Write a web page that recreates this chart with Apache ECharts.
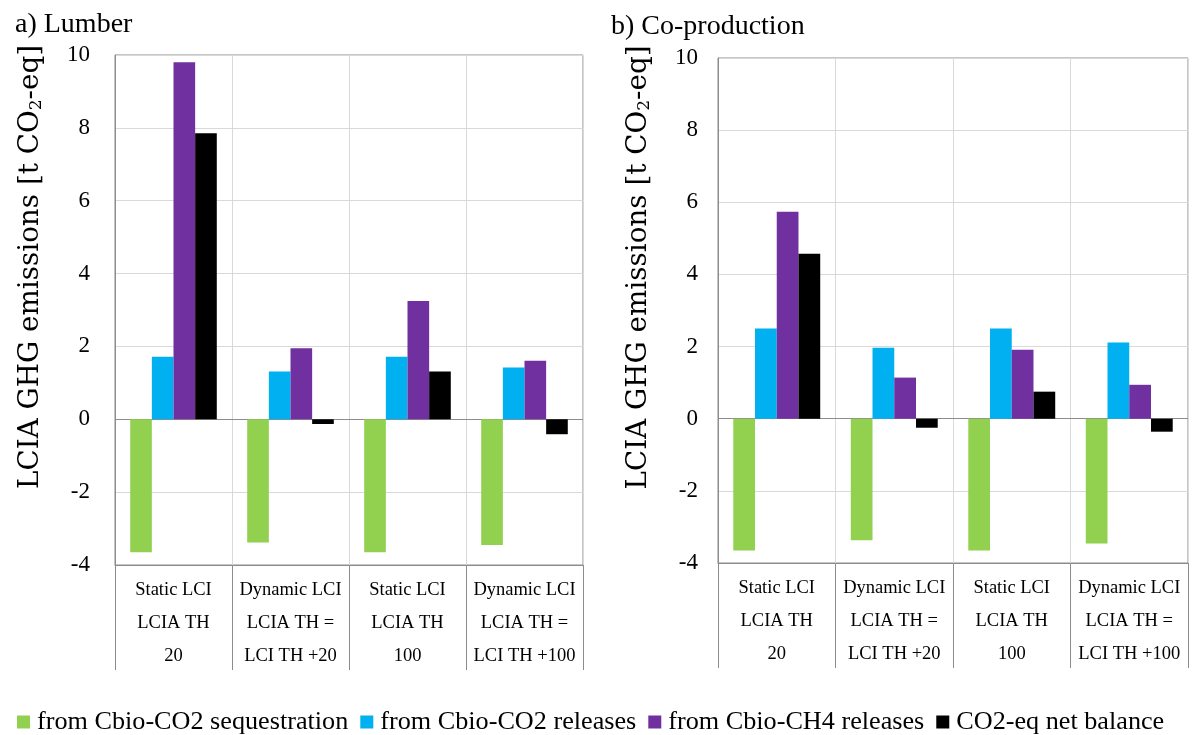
<!DOCTYPE html>
<html>
<head>
<meta charset="utf-8">
<script src="https://cdn.jsdelivr.net/npm/echarts@6/dist/echarts.min.js"></script>
<style>
html, body { margin: 0; padding: 0; background: #fff; }
#chart { width: 1192px; height: 735px; }
</style>
</head>
<body>
<div id="chart"></div>
<script>
// 数据
let categories = ['Static LCI\nLCIA TH\n20', 'Dynamic LCI\nLCIA TH =\nLCI TH +20', 'Static LCI\nLCIA TH\n100', 'Dynamic LCI\nLCIA TH =\nLCI TH +100']
let seriesNames = ['from Cbio-CO2 sequestration', 'from Cbio-CO2 releases', 'from Cbio-CH4 releases', 'CO2-eq net balance']
// a) Lumber
let lumberSeq = [-3.65, -3.38, -3.65, -3.45]
let lumberRel = [1.72, 1.31, 1.72, 1.42]
let lumberCh4 = [9.8, 1.95, 3.25, 1.61]
let lumberNet = [7.85, -0.13, 1.31, -0.41]
// b) Co-production
let coprodSeq = [-3.65, -3.37, -3.65, -3.46]
let coprodRel = [2.5, 1.97, 2.5, 2.11]
let coprodCh4 = [5.74, 1.14, 1.91, 0.94]
let coprodNet = [4.57, -0.25, 0.75, -0.36]
// y轴刻度
let yMin = -4, yMax = 10, yStep = 2

let colors = ['#92D050', '#00B0F0', '#7030A0', '#000000']
let serif = '"Liberation Serif", serif'
let gray = '#8c8c8c'

function xAxisFor(gridIndex) {
    return {
        type: 'category',
        gridIndex: gridIndex,
        data: categories,
        boundaryGap: true,
        axisLine: { onZero: false, lineStyle: { color: gray } },
        axisTick: { show: true, interval: 0, length: 105, lineStyle: { color: gray } },
        axisLabel: {
            interval: 0, margin: 9, color: '#000',
            fontFamily: serif, fontSize: 18.5, lineHeight: 33
        },
        splitLine: { show: true, interval: 0, lineStyle: { color: '#d9d9d9' } }
    }
}

function yAxisFor(gridIndex, labelMargin, nameGap) {
    return {
        type: 'value',
        gridIndex: gridIndex,
        min: yMin, max: yMax, interval: yStep,
        name: 'LCIA GHG emissions [t CO{sub|2}-eq]',
        nameLocation: 'middle',
        nameGap: nameGap,
        nameTextStyle: {
            fontFamily: '"DejaVu Serif", serif', fontSize: 27.8, color: '#000',
            padding: [0, 0, 0, 86],
            rich: { sub: { fontFamily: '"DejaVu Serif", serif', fontSize: 17, verticalAlign: 'bottom', color: '#000' } }
        },
        axisLine: { show: true, lineStyle: { color: gray } },
        axisTick: { show: false },
        axisLabel: { margin: labelMargin, color: '#000', fontFamily: serif, fontSize: 23 },
        splitLine: { lineStyle: { color: '#d9d9d9' } }
    }
}

function barsFor(gridIndex, values) {
    return values.map((d, i) => {
        let s = {
            name: seriesNames[i],
            type: 'bar',
            xAxisIndex: gridIndex,
            yAxisIndex: gridIndex,
            data: d,
            barGap: '0%',
            barCategoryGap: '26%',
            itemStyle: { color: colors[i] },
            z: 3
        }
        if (i === 0) {
            // 零线
            s.markLine = {
                silent: true, symbol: 'none', label: { show: false },
                lineStyle: { color: gray, type: 'solid', width: 1 },
                data: [{ yAxis: 0 }], z: 2
            }
        }
        return s
    })
}

let chart = echarts.init(document.getElementById('chart'))
let option = {
    backgroundColor: '#fff',
    animation: false,
    color: colors,
    title: [
        { text: 'a) Lumber', left: 10, top: 6, textStyle: { fontFamily: serif, fontSize: 28, fontWeight: 'normal', color: '#000' } },
        { text: 'b) Co-production', left: 606, top: 8, textStyle: { fontFamily: serif, fontSize: 28, fontWeight: 'normal', color: '#000' } }
    ],
    legend: {
        data: seriesNames,
        left: 12, top: 704,
        icon: 'rect', itemWidth: 13, itemHeight: 13, itemGap: 12,
        textStyle: { fontFamily: serif, fontSize: 26.2, color: '#000', padding: [0, 0, 0, 2] }
    },
    grid: [
        { left: 115, right: 609, top: 55, bottom: 170, show: true, borderColor: gray, borderWidth: 1, backgroundColor: 'transparent' },
        { left: 718, right: 4, top: 58, bottom: 172, show: true, borderColor: gray, borderWidth: 1, backgroundColor: 'transparent' }
    ],
    xAxis: [xAxisFor(0), xAxisFor(1)],
    yAxis: [yAxisFor(0, 25, 70), yAxisFor(1, 20, 65)],
    series: barsFor(0, [lumberSeq, lumberRel, lumberCh4, lumberNet])
        .concat(barsFor(1, [coprodSeq, coprodRel, coprodCh4, coprodNet]))
}
chart.setOption(option)
</script>
</body>
</html>
